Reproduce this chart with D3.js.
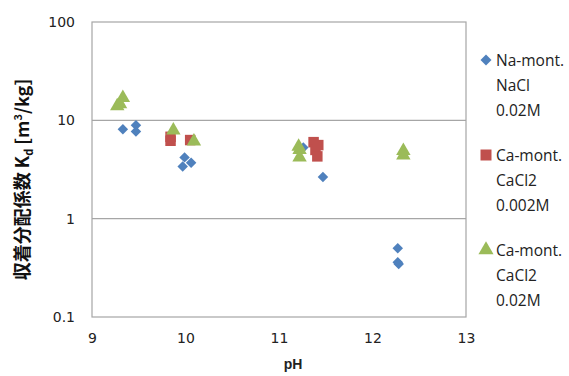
<!DOCTYPE html>
<html>
<head>
<meta charset="utf-8">
<script src="https://cdn.jsdelivr.net/npm/d3@7"></script>
<style>
  body { margin: 0; background: #fff; }
  svg { display: block; }
  .tick text { font-family: "DejaVu Sans", sans-serif; font-size: 14px; fill: #222; }
  .legend text { font-family: "Open Sans", sans-serif; font-size: 15.5px; fill: #222; }
</style>
</head>
<body>
<div id="chart"></div>
<script>
const W = 569, H = 376;
const MARGIN = { top: 22, right: 103, bottom: 59, left: 92 };

const xTicks = [9, 10, 11, 12, 13];
const yTicks = [0.1, 1, 10, 100];

// [pH, Kd]
const naMont = [
  [9.33, 8.1], [9.47, 8.9], [9.47, 7.7],
  [9.99, 4.2], [9.97, 3.4], [10.06, 3.7],
  [11.26, 5.3], [11.47, 2.65],
  [12.27, 0.5], [12.27, 0.36], [12.28, 0.345],
];
const caMont002 = [
  [9.84, 6.8], [9.84, 6.2], [10.05, 6.3],
  [11.37, 6.0], [11.39, 5.0], [11.41, 4.3], [11.42, 5.6],
];
const caMont02 = [
  [9.27, 14.0], [9.3, 14.6], [9.33, 16.9],
  [9.87, 7.9], [10.09, 6.1],
  [11.21, 5.4], [11.22, 5.0], [11.22, 4.2],
  [12.33, 4.9], [12.33, 4.4],
];

const series = [
  { name: ["Na-mont.", "NaCl", "0.02M"], data: naMont, color: "#4F81BD", shape: d3.symbolDiamond2, size: 70 },
  { name: ["Ca-mont.", "CaCl2", "0.002M"], data: caMont002, color: "#C0504D", shape: d3.symbolSquare, size: 110 },
  { name: ["Ca-mont.", "CaCl2", "0.02M"], data: caMont02, color: "#9BBB59", shape: d3.symbolTriangle, size: 90 },
];

const svg = d3.select("#chart").append("svg").attr("width", W).attr("height", H);

const x = d3.scaleLinear().domain([9, 13]).range([MARGIN.left, W - MARGIN.right]);
const y = d3.scaleLog().domain([0.1, 100]).range([H - MARGIN.bottom, MARGIN.top]);

// gridlines
svg.append("g")
  .selectAll("line")
  .data(yTicks.slice(1, -1))
  .join("line")
  .attr("x1", x(9)).attr("x2", x(13))
  .attr("y1", d => y(d)).attr("y2", d => y(d))
  .attr("stroke", "#a6a6a6").attr("stroke-width", 1.2);

// plot border
svg.append("rect")
  .attr("x", x(9)).attr("y", y(100))
  .attr("width", x(13) - x(9)).attr("height", y(0.1) - y(100))
  .attr("fill", "none").attr("stroke", "#a6a6a6").attr("stroke-width", 1.2);

svg.append("g")
  .attr("transform", `translate(0,${H - MARGIN.bottom})`)
  .call(d3.axisBottom(x).tickValues(xTicks).tickSize(0).tickPadding(16).tickFormat(d3.format("d")))
  .call(g => g.select(".domain").remove());

svg.append("g")
  .attr("transform", `translate(${MARGIN.left},0)`)
  .call(d3.axisLeft(y).tickValues(yTicks).tickSize(0).tickPadding(17).tickFormat(d => d < 1 ? "0.1" : String(d)))
  .call(g => g.select(".domain").remove());

// axis titles
svg.append("text")
  .attr("x", x(11.15)).attr("y", 369)
  .attr("text-anchor", "middle")
  .attr("font-family", "Liberation Sans, Arial, sans-serif")
  .attr("font-weight", "bold").attr("font-size", 14).attr("fill", "#222")
  .text("pH");

const yt = svg.append("text")
  .attr("transform", `translate(29,${(y(100) + y(0.1)) / 2 + 10}) rotate(-90)`)
  .attr("text-anchor", "middle")
  .attr("font-family", "Noto Sans CJK JP, sans-serif")
  .attr("font-weight", "bold").attr("font-size", 18).attr("fill", "#111");
yt.append("tspan").text("収着分配係数 K");
yt.append("tspan").attr("font-size", 11).attr("dy", 4).text("d");
yt.append("tspan").attr("dy", -4).text(" [m");
yt.append("tspan").attr("font-size", 11).attr("dy", -7).text("3");
yt.append("tspan").attr("dy", 7).text("/kg]");

// points
series.forEach(s => {
  svg.append("g")
    .selectAll("path")
    .data(s.data)
    .join("path")
    .attr("transform", d => `translate(${x(d[0])},${y(d[1])})`)
    .attr("d", d3.symbol().type(s.shape).size(s.size))
    .attr("fill", s.color);
});

// legend
const legend = svg.append("g").attr("class", "legend");
series.forEach((s, i) => {
  const g = legend.append("g").attr("transform", `translate(486,${60 + i * 95})`);
  g.append("path")
    .attr("d", d3.symbol().type(s.shape).size(s.size * 1.1))
    .attr("fill", s.color);
  s.name.forEach((t, j) => {
    g.append("text").attr("x", 10).attr("y", j * 25 + 5.5).text(t);
  });
});
</script>
</body>
</html>
